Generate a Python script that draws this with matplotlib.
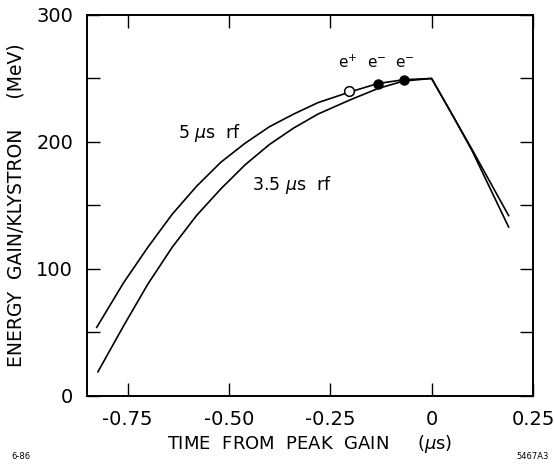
import matplotlib
matplotlib.use("Agg")
import matplotlib.pyplot as plt

# data
t_5us = [-0.826, -0.76, -0.70, -0.64, -0.58, -0.52, -0.46, -0.40, -0.34, -0.28,
         -0.205, -0.133, -0.069, 0.0, 0.05, 0.1, 0.19]
e_5us = [54, 89, 117, 143, 165, 184, 199, 212, 222, 231,
         239, 246, 249, 250, 222, 194, 142]
t_35us = [-0.823, -0.76, -0.70, -0.64, -0.58, -0.52, -0.46, -0.40, -0.34, -0.28,
          -0.202, -0.133, -0.069, 0.0, 0.05, 0.1, 0.19]
e_35us = [19, 55, 88, 117, 142, 163, 182, 198, 211, 222,
          233, 242, 248, 250, 222, 193, 133]

# beam points
pos_t = [-0.204]
pos_e = [240]
ele_t = [-0.133, -0.069]
ele_e = [246, 249]

xticks = [-0.75, -0.50, -0.25, 0, 0.25]
xticklabels = ["-0.75", "-0.50", "-0.25", "0", "0.25"]
yticks = [0, 50, 100, 150, 200, 250, 300]
yticklabels = ["0", "", "100", "", "200", "", "300"]

plt.rcParams["font.family"] = "DejaVu Sans"
plt.rcParams["axes.unicode_minus"] = False

fig = plt.figure(figsize=(5.54, 4.68), dpi=100)
ax = fig.add_axes([0.157, 0.154, 0.805, 0.814])

ax.plot(t_5us, e_5us, color="k", linewidth=1.2)
ax.plot(t_35us, e_35us, color="k", linewidth=1.2)
ax.plot(ele_t, ele_e, "o", color="k", markersize=6.5)
ax.plot(pos_t, pos_e, "o", markerfacecolor="white", markeredgecolor="k",
        markersize=7, markeredgewidth=1.1)

ax.text(-0.207, 256, "e$^{+}$", fontsize=11, ha="center", va="bottom")
ax.text(-0.136, 256, "e$^{-}$", fontsize=11, ha="center", va="bottom")
ax.text(-0.067, 256, "e$^{-}$", fontsize=11, ha="center", va="bottom")
ax.text(-0.547, 207, "5 $\\mu$s  rf", fontsize=12.5, ha="center", va="center")
ax.text(-0.444, 166, "3.5 $\\mu$s  rf", fontsize=12.5, ha="left", va="center")

ax.set_xlim(-0.85, 0.25)
ax.set_ylim(0, 300)
ax.set_xticks(xticks)
ax.set_xticklabels(xticklabels)
ax.set_yticks(yticks)
ax.set_yticklabels(yticklabels)
ax.tick_params(direction="in", length=9.5, width=1.0, top=True, right=True,
               labelsize=14, pad=10)
for s in ax.spines.values():
    s.set_linewidth(1.4)

ax.set_xlabel("TIME  FROM  PEAK  GAIN     ($\\mu$s)", fontsize=13, labelpad=3)
ax.set_ylabel("ENERGY  GAIN/KLYSTRON     (MeV)", fontsize=13.5, labelpad=8)

fig.text(0.02, 0.02, "6-86", fontsize=6)
fig.text(0.99, 0.02, "5467A3", fontsize=6, ha="right")

fig.savefig("out.png", dpi=100)
